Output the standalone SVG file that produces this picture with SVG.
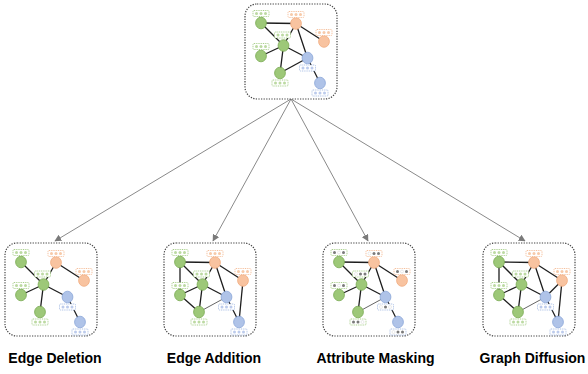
<svg xmlns="http://www.w3.org/2000/svg" xmlns:xlink="http://www.w3.org/1999/xlink" width="588" height="374" viewBox="0 0 588 374">
<style>
.box{fill:#fff;stroke:#444;stroke-width:1.2;stroke-dasharray:1.3 1.3}
.e{stroke:#1e1e1e;stroke-width:1.3;fill:none}
.et{stroke:#555;stroke-width:0.9;fill:none}
.ng{fill:#9dc878;stroke:#79aa52;stroke-width:0.8}
.no{fill:#f8c3a0;stroke:#f0aa7c;stroke-width:0.8}
.nb{fill:#afc3e8;stroke:#8aa6d8;stroke-width:0.8}
.lg{fill:#fff;stroke:#94c470;stroke-width:0.8;stroke-dasharray:1 0.8}
.lo{fill:#fff;stroke:#f2b084;stroke-width:0.8;stroke-dasharray:1 0.8}
.lb{fill:#fff;stroke:#98b1de;stroke-width:0.8;stroke-dasharray:1 0.8}
.dg{fill:#bcdaa2}
.do{fill:#f7caa9}
.db{fill:#bccbec}
.dm{fill:#7a7a7a}
.dw{fill:#fff;stroke:#bbb;stroke-width:0.3}
.arr{stroke:#8a8a8a;stroke-width:1;fill:none;marker-end:url(#ah)}
.cap{font-family:"Liberation Sans",Arial,sans-serif;font-weight:bold;font-size:14px;fill:#000;text-anchor:middle}
</style>
<defs>
<marker id="ah" viewBox="0 0 10 10" refX="9" refY="5" markerWidth="7" markerHeight="7" orient="auto" markerUnits="userSpaceOnUse">
<path d="M0,0 L10,5 L0,10 z" fill="#7a7a7a"/>
</marker>
<g id="labG"><rect x="-8" y="-3" width="16" height="6" rx="1" class="lg"/><circle cx="-4.5" cy="0" r="1.5" class="dg"/><circle cx="0" cy="0" r="1.5" class="dg"/><circle cx="4.5" cy="0" r="1.5" class="dg"/></g>
<g id="labO"><rect x="-8" y="-3" width="16" height="6" rx="1" class="lo"/><circle cx="-4.5" cy="0" r="1.5" class="do"/><circle cx="0" cy="0" r="1.5" class="do"/><circle cx="4.5" cy="0" r="1.5" class="do"/></g>
<g id="labB"><rect x="-8" y="-3" width="16" height="6" rx="1" class="lb"/><circle cx="-4.5" cy="0" r="1.5" class="db"/><circle cx="0" cy="0" r="1.5" class="db"/><circle cx="4.5" cy="0" r="1.5" class="db"/></g>
<g id="nodeA"><ellipse cx="16" cy="19" rx="5.4" ry="5.8" class="ng"/></g>
<g id="nodeB"><ellipse cx="51" cy="19.5" rx="5.4" ry="5.8" class="no"/></g>
<g id="nodeC"><ellipse cx="79" cy="37.5" rx="5.4" ry="5.8" class="no"/></g>
<g id="nodeD"><ellipse cx="38.5" cy="41.5" rx="5.4" ry="5.8" class="ng"/></g>
<g id="nodeE"><ellipse cx="16" cy="52" rx="5.4" ry="5.8" class="ng"/></g>
<g id="nodeF"><ellipse cx="62.5" cy="54" rx="5.4" ry="5.8" class="nb"/></g>
<g id="nodeG"><ellipse cx="35" cy="69" rx="5.4" ry="5.8" class="ng"/></g>
<g id="nodeH"><ellipse cx="75" cy="79" rx="5.4" ry="5.8" class="nb"/></g>
</defs>

<g id="connectors">
<path class="arr" d="M291,99 L55,241"/>
<path class="arr" d="M291,99 L213,241"/>
<path class="arr" d="M291,99 L368,241"/>
<path class="arr" d="M291,99 L525,241"/>
</g>

<!-- Original graph -->
<g id="original" transform="translate(245,4)">
<rect class="box" x="0" y="0" width="92" height="95" rx="12"/>
<g id="orig-edges">
<line class="e" x1="16" y1="19" x2="51" y2="19.5"/>
<line class="e" x1="16" y1="19" x2="38.5" y2="41.5"/>
<line class="e" x1="51" y1="19.5" x2="38.5" y2="41.5"/>
<line class="e" x1="51" y1="19.5" x2="79" y2="37.5"/>
<line class="e" x1="51" y1="19.5" x2="62.5" y2="54"/>
<line class="e" x1="38.5" y1="41.5" x2="16" y2="52"/>
<line class="e" x1="38.5" y1="41.5" x2="62.5" y2="54"/>
<line class="e" x1="38.5" y1="41.5" x2="35" y2="69"/>
<line class="e" x1="35" y1="69" x2="62.5" y2="54"/>
<line class="e" x1="62.5" y1="54" x2="75" y2="79"/>
</g>
<g id="orig-A"><use href="#nodeA"/><use href="#labG" x="16" y="9.5"/></g>
<g id="orig-B"><use href="#nodeB"/><use href="#labO" x="51" y="10.5"/></g>
<g id="orig-C"><use href="#nodeC"/><use href="#labO" x="79" y="28.5"/></g>
<g id="orig-D"><use href="#nodeD"/><use href="#labG" x="37.5" y="31"/></g>
<g id="orig-E"><use href="#nodeE"/><use href="#labG" x="16" y="42.5"/></g>
<g id="orig-F"><use href="#nodeF"/><use href="#labB" x="62.5" y="64"/></g>
<g id="orig-G"><use href="#nodeG"/><use href="#labG" x="35" y="79"/></g>
<g id="orig-H"><use href="#nodeH"/><use href="#labB" x="75" y="89"/></g>
</g>

<!-- Edge Deletion -->
<g id="edge-deletion" transform="translate(5,243)">
<rect class="box" x="0" y="0" width="92" height="93" rx="12"/>
<g id="ed-edges">
<line class="e" x1="16" y1="19" x2="38.5" y2="41.5"/>
<line class="e" x1="51" y1="19.5" x2="38.5" y2="41.5"/>
<line class="e" x1="51" y1="19.5" x2="79" y2="37.5"/>
<line class="e" x1="38.5" y1="41.5" x2="16" y2="52"/>
<line class="e" x1="38.5" y1="41.5" x2="62.5" y2="54"/>
<line class="e" x1="38.5" y1="41.5" x2="35" y2="69"/>
<line class="e" x1="62.5" y1="54" x2="75" y2="79"/>
</g>
<g id="ed-A"><use href="#nodeA"/><use href="#labG" x="16" y="9.5"/></g>
<g id="ed-B"><use href="#nodeB"/><use href="#labO" x="51" y="10.5"/></g>
<g id="ed-C"><use href="#nodeC"/><use href="#labO" x="79" y="28.5"/></g>
<g id="ed-D"><use href="#nodeD"/><use href="#labG" x="37.5" y="31"/></g>
<g id="ed-E"><use href="#nodeE"/><use href="#labG" x="16" y="42.5"/></g>
<g id="ed-F"><use href="#nodeF"/><use href="#labB" x="62.5" y="64"/></g>
<g id="ed-G"><use href="#nodeG"/><use href="#labG" x="35" y="79"/></g>
<g id="ed-H"><use href="#nodeH"/><use href="#labB" x="75" y="89"/></g>
</g>

<!-- Edge Addition -->
<g id="edge-addition" transform="translate(164,243)">
<rect class="box" x="0" y="0" width="92" height="93" rx="12"/>
<g id="ea-edges">
<line class="e" x1="16" y1="19" x2="51" y2="19.5"/>
<line class="e" x1="16" y1="19" x2="38.5" y2="41.5"/>
<line class="e" x1="16" y1="19" x2="16" y2="52"/>
<line class="e" x1="51" y1="19.5" x2="38.5" y2="41.5"/>
<line class="e" x1="51" y1="19.5" x2="79" y2="37.5"/>
<line class="e" x1="51" y1="19.5" x2="62.5" y2="54"/>
<line class="e" x1="79" y1="37.5" x2="75" y2="79"/>
<line class="e" x1="38.5" y1="41.5" x2="16" y2="52"/>
<line class="e" x1="38.5" y1="41.5" x2="62.5" y2="54"/>
<line class="e" x1="38.5" y1="41.5" x2="35" y2="69"/>
<line class="e" x1="16" y1="52" x2="35" y2="69"/>
<line class="et" x1="35" y1="69" x2="62.5" y2="54"/>
<line class="e" x1="62.5" y1="54" x2="75" y2="79"/>
</g>
<g id="ea-A"><use href="#nodeA"/><use href="#labG" x="16" y="9.5"/></g>
<g id="ea-B"><use href="#nodeB"/><use href="#labO" x="51" y="10.5"/></g>
<g id="ea-C"><use href="#nodeC"/><use href="#labO" x="79" y="28.5"/></g>
<g id="ea-D"><use href="#nodeD"/><use href="#labG" x="37.5" y="31"/></g>
<g id="ea-E"><use href="#nodeE"/><use href="#labG" x="16" y="42.5"/></g>
<g id="ea-F"><use href="#nodeF"/><use href="#labB" x="62.5" y="64"/></g>
<g id="ea-G"><use href="#nodeG"/><use href="#labG" x="35" y="79"/></g>
<g id="ea-H"><use href="#nodeH"/><use href="#labB" x="75" y="89"/></g>
</g>

<!-- Attribute Masking -->
<g id="attribute-masking" transform="translate(323,243)">
<rect class="box" x="0" y="0" width="92" height="93" rx="12"/>
<g id="am-edges">
<line class="e" x1="16" y1="19" x2="51" y2="19.5"/>
<line class="e" x1="16" y1="19" x2="38.5" y2="41.5"/>
<line class="e" x1="51" y1="19.5" x2="38.5" y2="41.5"/>
<line class="e" x1="51" y1="19.5" x2="79" y2="37.5"/>
<line class="e" x1="51" y1="19.5" x2="62.5" y2="54"/>
<line class="e" x1="38.5" y1="41.5" x2="16" y2="52"/>
<line class="e" x1="38.5" y1="41.5" x2="62.5" y2="54"/>
<line class="e" x1="38.5" y1="41.5" x2="35" y2="69"/>
<line class="et" x1="35" y1="69" x2="62.5" y2="54"/>
<line class="e" x1="62.5" y1="54" x2="75" y2="79"/>
</g>
<g id="am-A"><use href="#nodeA"/><g transform="translate(16,9.5)"><rect x="-8" y="-3" width="16" height="6" rx="1" class="lg"/><circle cx="-4.5" r="1.5" class="dm"/><circle cx="0" r="1.5" class="dw"/><circle cx="4.5" r="1.5" class="dm"/></g></g>
<g id="am-B"><use href="#nodeB"/><g transform="translate(51,10.5)"><rect x="-8" y="-3" width="16" height="6" rx="1" class="lo"/><circle cx="-4.5" r="1.5" class="dw"/><circle cx="0" r="1.5" class="dm"/><circle cx="4.5" r="1.5" class="dm"/></g></g>
<g id="am-C"><use href="#nodeC"/><g transform="translate(79,28.5)"><rect x="-8" y="-3" width="16" height="6" rx="1" class="lo"/><circle cx="-4.5" r="1.5" class="dm"/><circle cx="0" r="1.5" class="dw"/><circle cx="4.5" r="1.5" class="dm"/></g></g>
<g id="am-D"><use href="#nodeD"/><g transform="translate(37.5,31)"><rect x="-8" y="-3" width="16" height="6" rx="1" class="lg"/><circle cx="-4.5" r="1.5" class="dw"/><circle cx="0" r="1.5" class="dm"/><circle cx="4.5" r="1.5" class="dm"/></g></g>
<g id="am-E"><use href="#nodeE"/><g transform="translate(16,42.5)"><rect x="-8" y="-3" width="16" height="6" rx="1" class="lg"/><circle cx="-4.5" r="1.5" class="dm"/><circle cx="0" r="1.5" class="dw"/><circle cx="4.5" r="1.5" class="dm"/></g></g>
<g id="am-F"><use href="#nodeF"/><g transform="translate(62.5,64)"><rect x="-8" y="-3" width="16" height="6" rx="1" class="lb"/><circle cx="-4.5" r="1.5" class="dw"/><circle cx="0" r="1.5" class="dm"/><circle cx="4.5" r="1.5" class="dw"/></g></g>
<g id="am-G"><use href="#nodeG"/><g transform="translate(35,79)"><rect x="-8" y="-3" width="16" height="6" rx="1" class="lg"/><circle cx="-4.5" r="1.5" class="dm"/><circle cx="0" r="1.5" class="dm"/><circle cx="4.5" r="1.5" class="dw"/></g></g>
<g id="am-H"><use href="#nodeH"/><g transform="translate(75,89)"><rect x="-8" y="-3" width="16" height="6" rx="1" class="lb"/><circle cx="-4.5" r="1.5" class="dw"/><circle cx="0" r="1.5" class="dm"/><circle cx="4.5" r="1.5" class="dm"/></g></g>
</g>

<!-- Graph Diffusion -->
<g id="graph-diffusion" transform="translate(483,243)">
<rect class="box" x="0" y="0" width="92" height="93" rx="12"/>
<g id="gd-edges">
<line class="e" x1="16" y1="19" x2="51" y2="19.5"/>
<line class="e" x1="16" y1="19" x2="38.5" y2="41.5"/>
<line class="e" x1="16" y1="19" x2="16" y2="52"/>
<line class="e" x1="51" y1="19.5" x2="38.5" y2="41.5"/>
<line class="e" x1="51" y1="19.5" x2="79" y2="37.5"/>
<line class="e" x1="51" y1="19.5" x2="62.5" y2="54"/>
<line class="e" x1="79" y1="37.5" x2="62.5" y2="54"/>
<line class="e" x1="79" y1="37.5" x2="75" y2="79"/>
<line class="e" x1="38.5" y1="41.5" x2="16" y2="52"/>
<line class="e" x1="38.5" y1="41.5" x2="62.5" y2="54"/>
<line class="e" x1="38.5" y1="41.5" x2="35" y2="69"/>
<line class="e" x1="16" y1="52" x2="35" y2="69"/>
<line class="et" x1="35" y1="69" x2="62.5" y2="54"/>
<line class="e" x1="62.5" y1="54" x2="75" y2="79"/>
</g>
<g id="gd-A"><use href="#nodeA"/><use href="#labG" x="16" y="9.5"/></g>
<g id="gd-B"><use href="#nodeB"/><use href="#labO" x="51" y="10.5"/></g>
<g id="gd-C"><use href="#nodeC"/><use href="#labO" x="79" y="28.5"/></g>
<g id="gd-D"><use href="#nodeD"/><use href="#labG" x="37.5" y="31"/></g>
<g id="gd-E"><use href="#nodeE"/><use href="#labG" x="16" y="42.5"/></g>
<g id="gd-F"><use href="#nodeF"/><use href="#labB" x="62.5" y="64"/></g>
<g id="gd-G"><use href="#nodeG"/><use href="#labG" x="35" y="79"/></g>
<g id="gd-H"><use href="#nodeH"/><use href="#labB" x="75" y="89"/></g>
</g>

<g id="captions">
<text class="cap" x="55" y="363">Edge Deletion</text>
<text class="cap" x="214" y="363">Edge Addition</text>
<text class="cap" x="375.5" y="363">Attribute Masking</text>
<text class="cap" x="532.5" y="363">Graph Diffusion</text>
</g>
</svg>
